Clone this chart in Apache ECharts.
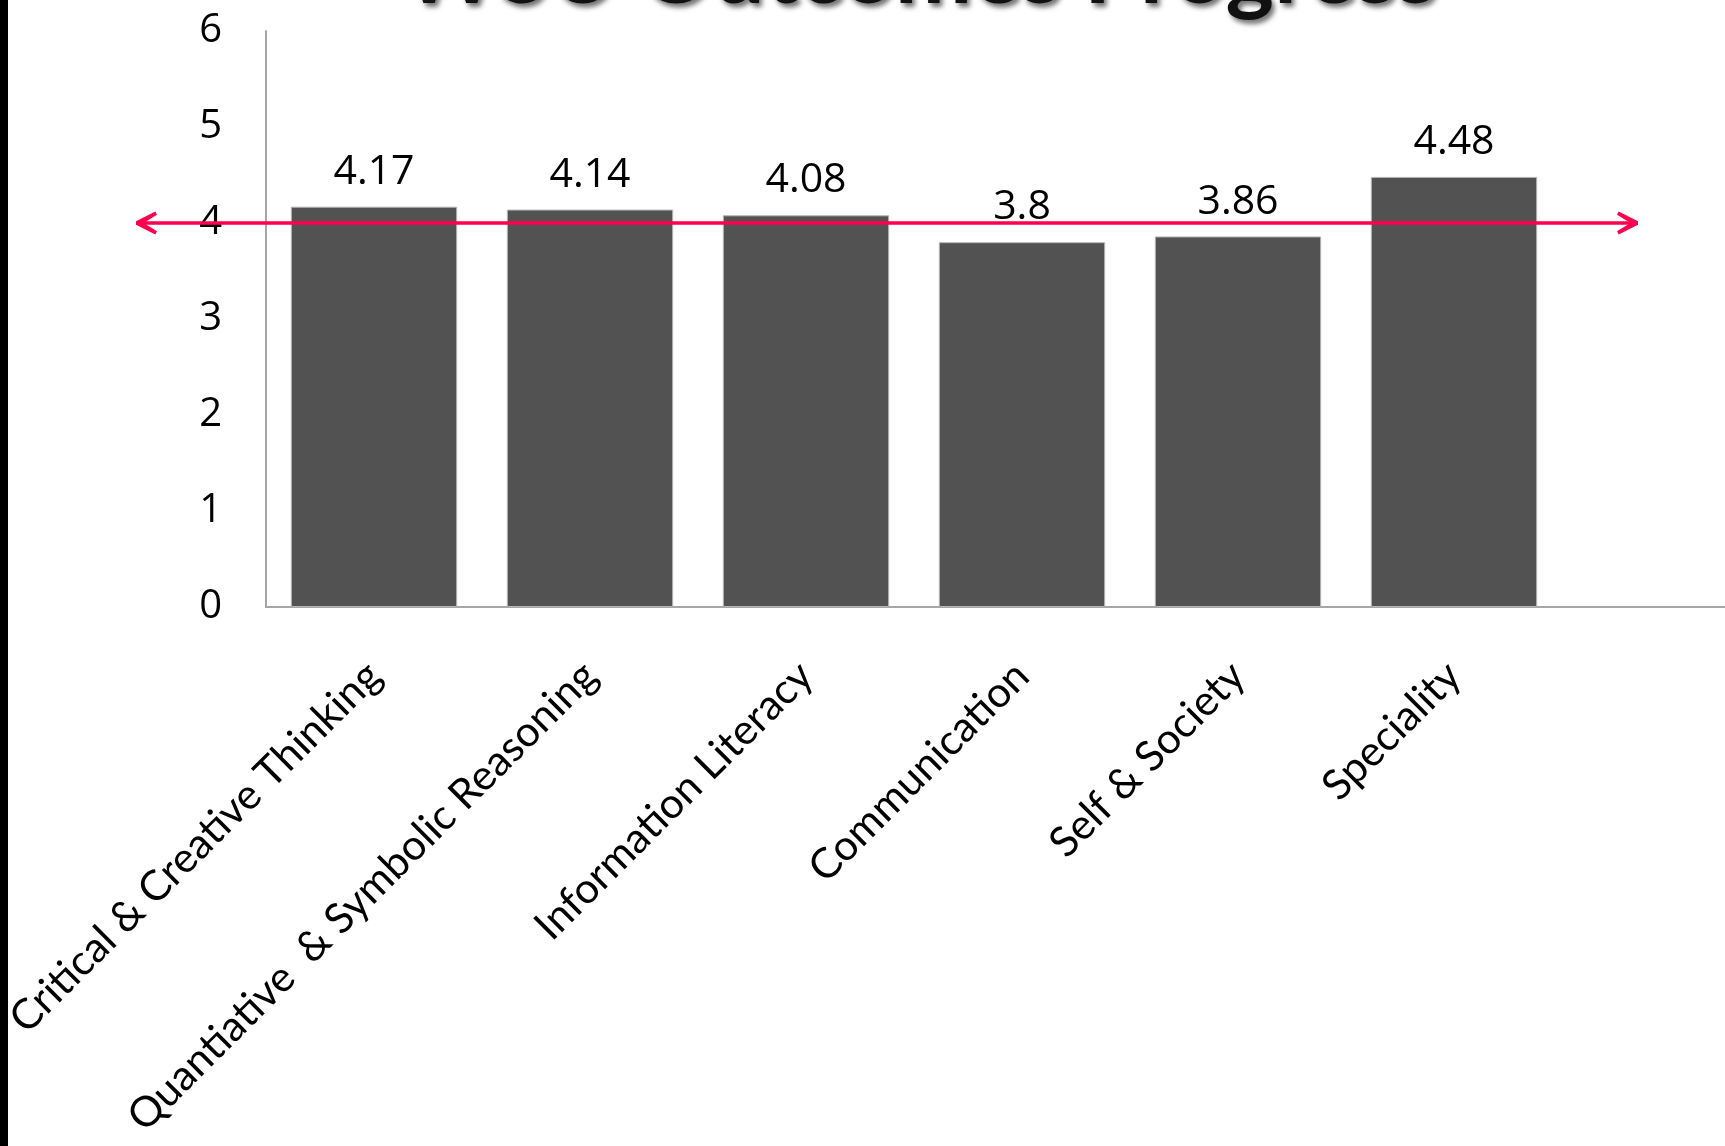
<!DOCTYPE html>
<html>
<head>
<meta charset="utf-8">
<script src="https://cdn.jsdelivr.net/npm/echarts@6/dist/echarts.min.js"></script>
<style>
html,body{margin:0;padding:0;background:#fff;}
#chart{position:absolute;left:0;top:0;width:1725px;height:1146px;}
#strip{position:absolute;left:0;top:0;width:8px;height:1146px;background:#000;}
</style>
</head>
<body>
<div id="chart"></div>
<div id="strip"></div>
<script>
const titleText = 'WSU Outcomes Progress';
const categories = ['Critical & Creative Thinking', 'Quantiative  & Symbolic Reasoning', 'Information Literacy', 'Communication', 'Self & Society', 'Speciality'];
const values = [4.17, 4.14, 4.08, 3.8, 3.86, 4.48];
const yTicks = [0, 1, 2, 3, 4, 5, 6];
const targetValue = 4;

const chart = echarts.init(document.getElementById('chart'));
const chevron = 'path://M8,0 L100,47 L100,63 L8,110 L0,95 L64,55 L0,15 Z';
chart.setOption({
  animation: false,
  backgroundColor: '#fff',
  grid: {left: 266, right: 163, top: 31, bottom: 539},
  graphic: [
    {type: 'line', shape: {x1: 1562, y1: 607, x2: 1725, y2: 607}, style: {stroke: '#a6a6a6', lineWidth: 2}, z: 1},
    {type: 'text', left: 402, top: -73, style: {text: titleText, font: 'bold 92px Lato', fill: '#111',
      textShadowColor: 'rgba(0,0,0,0.55)', textShadowBlur: 5, textShadowOffsetX: 3, textShadowOffsetY: 4}}
  ],
  xAxis: {
    type: 'category',
    data: categories,
    axisLine: {lineStyle: {color: '#a6a6a6', width: 2}},
    axisTick: {show: false},
    axisLabel: {rotate: 45, margin: 62, interval: 0, fontFamily: 'Lato', fontSize: 42, color: '#000'}
  },
  yAxis: {
    type: 'value',
    min: yTicks[0],
    max: yTicks[yTicks.length - 1],
    interval: 1,
    splitLine: {show: false},
    axisLine: {show: true, lineStyle: {color: '#a6a6a6', width: 2}},
    axisTick: {show: false},
    axisLabel: {margin: 44, fontFamily: 'Open Sans', fontSize: 40, color: '#000', padding: [7, 0, 0, 0]}
  },
  series: [{
    type: 'bar',
    data: values,
    clip: false,
    barCategoryGap: '23%',
    itemStyle: {color: '#525252', borderColor: '#b5b5b5', borderWidth: 1},
    label: {show: true, position: 'top', distance: 14, fontFamily: 'Open Sans', fontSize: 41, color: '#000'},
    markLine: {
      silent: true,
      symbol: ['none', 'none'],
      label: {show: false},
      lineStyle: {color: '#ff0050', width: 3.5, type: 'solid'},
      data: [[{yAxis: targetValue, x: 136}, {yAxis: targetValue, x: 1638}]],
      z: 5
    },
    markPoint: {
      silent: true,
      symbol: chevron,
      symbolSize: [21, 23],
      label: {show: false},
      itemStyle: {color: '#ff0050'},
      data: [
        {yAxis: targetValue, x: 146.5, symbolRotate: 180},
        {yAxis: targetValue, x: 1627.5, symbolRotate: 0}
      ],
      z: 5
    }
  }]
});
</script>
</body>
</html>
